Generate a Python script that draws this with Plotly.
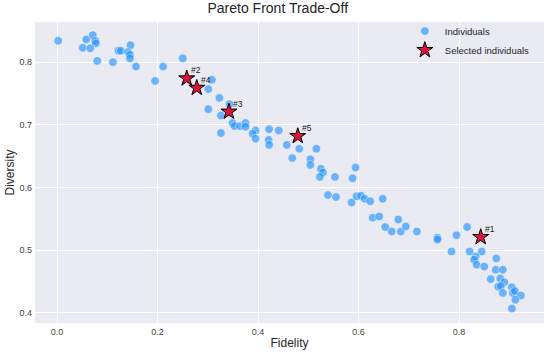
import plotly.graph_objects as go

# Individuals (blue)
fidelity = [0.002, 0.058, 0.071, 0.076, 0.077, 0.051, 0.066, 0.080, 0.111, 0.122,
            0.127, 0.146, 0.141, 0.145, 0.145, 0.157, 0.211, 0.250, 0.195, 0.301,
            0.301, 0.308, 0.323, 0.343, 0.326, 0.349, 0.353, 0.364, 0.375, 0.375,
            0.326, 0.395, 0.389, 0.395, 0.422, 0.441, 0.421, 0.422, 0.457, 0.482,
            0.516, 0.468, 0.504, 0.504, 0.525, 0.529, 0.523, 0.553, 0.594, 0.588,
            0.539, 0.555, 0.586, 0.596, 0.605, 0.612, 0.623, 0.648, 0.628, 0.641,
            0.679, 0.653, 0.666, 0.684, 0.694, 0.716, 0.757, 0.757, 0.795, 0.816,
            0.785, 0.821, 0.845, 0.833, 0.830, 0.835, 0.850, 0.874, 0.873, 0.887,
            0.863, 0.882, 0.890, 0.878, 0.883, 0.905, 0.887, 0.907, 0.911, 0.923,
            0.912, 0.905]
diversity = [0.834, 0.836, 0.843, 0.834, 0.830, 0.823, 0.822, 0.802, 0.800, 0.818,
             0.818, 0.827, 0.816, 0.812, 0.806, 0.793, 0.793, 0.806, 0.770, 0.757,
             0.725, 0.772, 0.743, 0.733, 0.715, 0.703, 0.698, 0.698, 0.703, 0.697,
             0.687, 0.691, 0.686, 0.678, 0.693, 0.691, 0.676, 0.668, 0.668, 0.662,
             0.662, 0.647, 0.645, 0.636, 0.630, 0.624, 0.617, 0.617, 0.632, 0.615,
             0.588, 0.585, 0.576, 0.586, 0.587, 0.582, 0.578, 0.582, 0.552, 0.554,
             0.549, 0.537, 0.530, 0.530, 0.538, 0.530, 0.520, 0.517, 0.524, 0.537,
             0.498, 0.498, 0.498, 0.490, 0.485, 0.477, 0.474, 0.487, 0.469, 0.469,
             0.454, 0.455, 0.449, 0.442, 0.443, 0.441, 0.432, 0.432, 0.435, 0.428,
             0.421, 0.407]

# Selected individuals
sel_labels = ["#1", "#2", "#3", "#4", "#5"]
sel_fidelity = [0.843, 0.258, 0.342, 0.278, 0.479]
sel_diversity = [0.521, 0.774, 0.721, 0.759, 0.682]

x_ticks = [0.0, 0.2, 0.4, 0.6, 0.8]
y_ticks = [0.4, 0.5, 0.6, 0.7, 0.8]

FONT = "Liberation Sans, Arial, sans-serif"

fig = go.Figure()
fig.add_trace(go.Scatter(
    x=fidelity, y=diversity, mode="markers", name="Individuals",
    marker=dict(size=8.5, color="rgba(30,144,255,0.62)",
                line=dict(color="rgba(255,255,255,0.8)", width=0.6)),
))
fig.add_trace(go.Scatter(
    x=sel_fidelity, y=sel_diversity, mode="markers", name="Selected individuals",
    marker=dict(symbol="star", size=12, color="#DC143C",
                line=dict(color="black", width=1)),
))

for lab, fx, dy in zip(sel_labels, sel_fidelity, sel_diversity):
    fig.add_annotation(x=fx, y=dy, text=lab, showarrow=False,
                       xanchor="left", yanchor="bottom", xshift=2, yshift=1,
                       font=dict(family=FONT, size=8.5, color="#222222"))

fig.update_layout(
    width=550, height=354,
    margin=dict(l=35, r=6, t=22, b=31, autoexpand=False),
    paper_bgcolor="white", plot_bgcolor="#EAEAF2",
    font=dict(family=FONT, color="#333333"),
    title=dict(text="Pareto Front Trade-Off", x=0.505, xanchor="center",
               y=0.99, yanchor="top",
               font=dict(family=FONT, size=14, color="#262626")),
    legend=dict(x=0.982, y=1.018, xanchor="right", yanchor="top",
                bgcolor="rgba(0,0,0,0)", font=dict(family=FONT, size=9.5, color="#262626"),
                itemwidth=30, tracegroupgap=0),
    showlegend=True,
)
fig.update_xaxes(
    range=[-0.044, 0.969], tickvals=x_ticks, ticktext=[f"{v:.1f}" for v in x_ticks],
    showgrid=True, gridcolor="white", gridwidth=1, zeroline=False, automargin=False,
    showline=False, ticks="", ticklabelstandoff=2, tickfont=dict(size=9, color="#444444"),
    title=dict(text="Fidelity", font=dict(size=12, color="#262626"), standoff=2),
)
fig.update_yaxes(
    range=[0.384, 0.864], tickvals=y_ticks, ticktext=[f"{v:.1f}" for v in y_ticks],
    showgrid=True, gridcolor="white", gridwidth=1, zeroline=False, automargin=False,
    showline=False, ticks="", ticklabelstandoff=2, tickfont=dict(size=9, color="#444444"),
    title=dict(text="Diversity", font=dict(size=12, color="#262626"), standoff=2),
)

fig.write_html("out.html", config={"displayModeBar": False},
               post_script="document.body.style.margin='0';")
